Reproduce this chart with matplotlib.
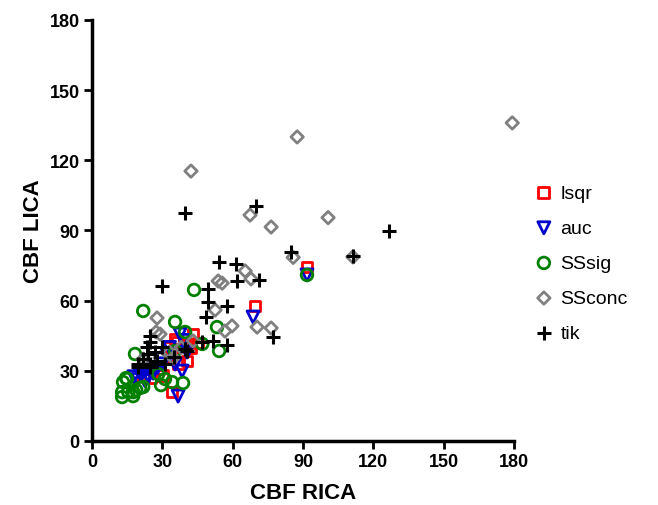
import matplotlib.pyplot as plt

plt.rcParams['font.family'] = ['Liberation Sans', 'DejaVu Sans']

# values (CBF RICA, CBF LICA)
lsqr_x = [91.7, 69.5, 43.1, 39.2, 36.3, 40.5, 34.1, 28.2, 35.4, 45.2, 38.4, 33.0, 30.0, 25.0, 22.0, 37.0, 42.0, 32.0]
lsqr_y = [74.4, 57.7, 45.7, 41.5, 42.3, 34.2, 20.9, 30.8, 43.6, 41.9, 38.0, 36.0, 28.0, 27.0, 28.0, 33.0, 40.0, 40.0]

auc_x = [91.7, 68.7, 36.7, 37.5, 38.4, 35.4, 32.0, 17.8, 19.5, 21.0, 22.5, 24.0, 26.0, 28.0, 30.0, 33.0, 40.5, 39.2, 20.0, 23.0]
auc_y = [71.0, 53.0, 19.2, 45.7, 29.9, 32.9, 37.0, 27.5, 26.3, 28.2, 25.8, 27.5, 29.0, 31.5, 33.0, 40.0, 38.0, 43.0, 29.5, 30.5]

sssig_x = [12.8, 12.8, 13.2, 14.5, 15.4, 17.5, 17.5, 18.8, 20.5, 21.8, 18.3, 21.8, 28.2, 29.4, 31.1, 34.1, 35.4, 35.4, 38.8, 39.7, 47.0, 43.5, 53.3, 54.2, 91.7, 14.9]
sssig_y = [18.8, 20.9, 25.2, 26.9, 21.0, 19.2, 20.9, 21.8, 22.7, 23.1, 37.2, 55.6, 28.6, 23.9, 26.5, 25.2, 38.5, 50.9, 24.8, 46.6, 41.5, 64.6, 48.7, 38.5, 71.0, 26.5]

ssconc_x = [179.3, 87.5, 42.2, 100.7, 67.4, 76.4, 85.8, 111.3, 65.3, 67.8, 53.8, 55.5, 52.5, 59.7, 56.7, 70.4, 76.4, 27.7, 27.3, 43.1, 34.6, 29.0, 29.0, 21.8, 33.0, 38.0]
ssconc_y = [136.0, 130.0, 115.4, 95.5, 96.6, 91.5, 78.5, 78.7, 72.7, 69.3, 68.4, 67.5, 56.0, 49.2, 47.0, 48.7, 48.3, 52.6, 46.6, 42.8, 35.5, 35.5, 45.7, 35.0, 38.0, 40.0]

tik_x = [39.7, 70.0, 84.9, 111.3, 126.7, 54.2, 61.4, 71.2, 61.9, 49.5, 29.9, 49.5, 57.6, 48.6, 77.2, 51.6, 57.6, 47.0, 39.7,
         24.7, 24.7, 23.5, 23.9, 21.8, 19.6, 24.7, 27.7, 31.1, 40.5, 19.6, 24.7, 27.0, 30.0, 35.0]
tik_y = [97.5, 100.5, 80.8, 79.0, 89.8, 76.5, 75.7, 68.8, 68.4, 65.0, 66.3, 59.4, 57.7, 53.0, 44.5, 42.8, 41.0, 42.3, 39.3,
         45.0, 42.3, 40.2, 37.2, 35.0, 32.9, 32.9, 34.2, 32.9, 38.5, 31.6, 31.6, 38.0, 40.0, 36.0]

ticks = [0, 30, 60, 90, 120, 150, 180]

fig = plt.figure(figsize=(6.58, 5.06), dpi=100)
ax = fig.add_axes([0.14, 0.1265, 0.641, 0.832])

kw = dict(clip_on=False, linewidths=2)
ax.scatter(lsqr_x, lsqr_y, marker='s', s=60, facecolors='none', edgecolors='#ff0000', label='lsqr', **kw)
ax.scatter(auc_x, auc_y, marker='v', s=75, facecolors='none', edgecolors='#0000cc', label='auc', **kw)
ax.scatter(sssig_x, sssig_y, marker='o', s=70, facecolors='none', edgecolors='#008000', label='SSsig', **kw)
ax.scatter(ssconc_x, ssconc_y, marker='D', s=40, facecolors='none', edgecolors='#808080', label='SSconc', **kw)
ax.scatter(tik_x, tik_y, marker='+', s=110, c='black', clip_on=False, linewidths=2.2, label='tik')

ax.set_xlim(0, 180)
ax.set_ylim(0, 180)
ax.set_xticks(ticks)
ax.set_yticks(ticks)
ax.set_xlabel('CBF RICA', fontsize=16, fontweight='bold', labelpad=8)
ax.set_ylabel('CBF LICA', fontsize=16, fontweight='bold', labelpad=4)

for side in ['top', 'right']:
    ax.spines[side].set_visible(False)
for side in ['left', 'bottom']:
    ax.spines[side].set_linewidth(2.5)
ax.tick_params(width=2, length=6, labelsize=13, pad=3)
for lbl in ax.get_xticklabels() + ax.get_yticklabels():
    lbl.set_fontweight('bold')

ax.legend(loc='upper left', bbox_to_anchor=(1.048, 0.61), frameon=False, fontsize=14,
          handlelength=1.0, handletextpad=0.35, labelspacing=0.9, borderpad=0, borderaxespad=0)

fig.savefig('out.png', dpi=100)
